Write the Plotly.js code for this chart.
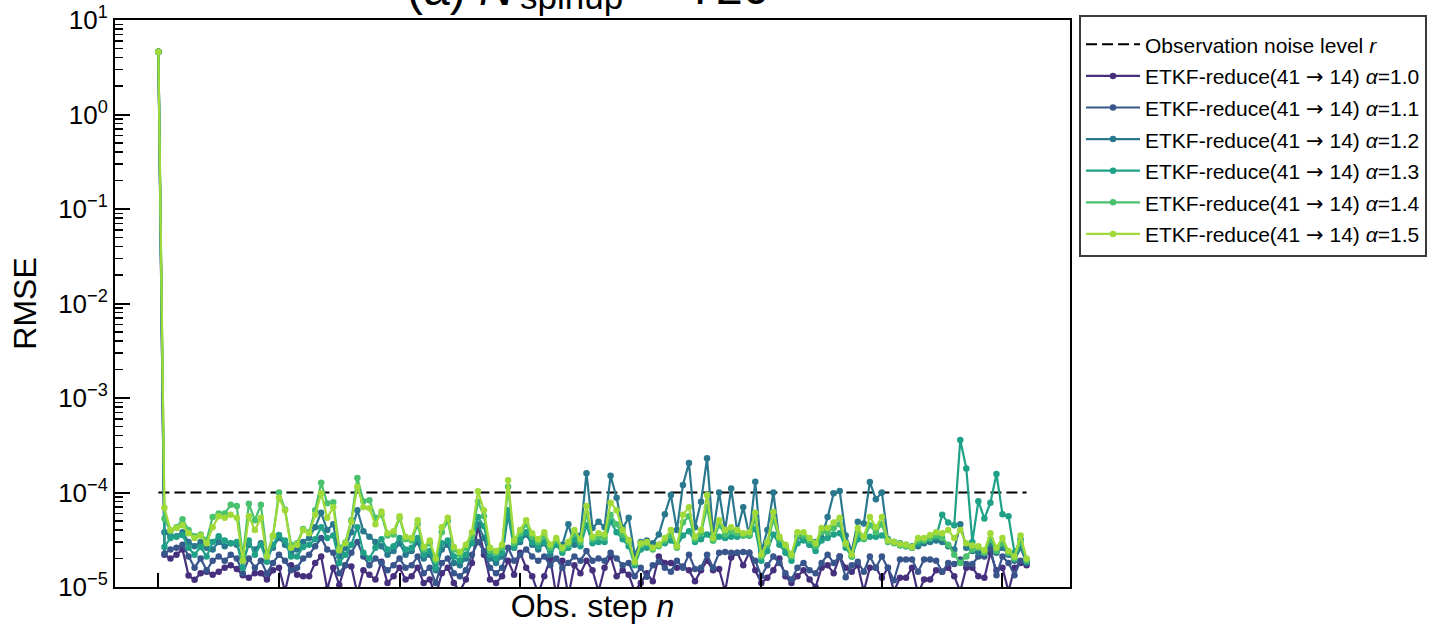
<!DOCTYPE html>
<html>
<head>
<meta charset="utf-8">
<script src="https://cdn.plot.ly/plotly-3.0.1.min.js"></script>
<style>html,body{margin:0;padding:0;background:#fff;}</style>
</head>
<body>
<div id="chart" style="width:1429px;height:628px;"></div>
<script>
// ---- data ----
const alphaLabels = ["1.0", "1.1", "1.2", "1.3", "1.4", "1.5"];
const seriesColors = ["#46307e", "#39568c", "#2a788e", "#1fa187", "#4ac16d", "#a0da39"];
const noiseLevel = 1e-4;

const rmse_a10 = [4.6, 2.2e-5, 2.0e-5, 2.2e-5, 2.5e-5, 1.32e-5, 1.19e-5, 1.4e-5, 1.45e-5, 1.35e-5,
 1.45e-5, 1.6e-5, 1.7e-5, 1.55e-5, 1.33e-5, 1.25e-5, 1.4e-5, 1.4e-5, 1.2e-5, 1.5e-5,
 1.6e-5, 9.0e-6, 1.7e-5, 1.35e-5, 1.3e-5, 1.3e-5, 1.8e-5, 2.1e-5, 9.5e-6, 1.6e-5,
 1.05e-5, 1.7e-5, 1.65e-5, 8.5e-6, 1.5e-5, 1.35e-5, 1.2e-5, 1.85e-5, 1.1e-5, 1.3e-5,
 1.6e-5, 1.2e-5, 1.3e-5, 1.6e-5, 1.1e-5, 1.2e-5, 8.0e-6, 1.4e-5, 1.6e-5, 1.1e-5,
 9.0e-6, 1.2e-5, 1.8e-5, 4.4e-5, 2.2e-5, 1.2e-5, 1.1e-5, 1.3e-5, 1.9e-5, 1.35e-5,
 2.3e-5, 1.6e-5, 1.3e-5, 8.5e-6, 1.3e-5, 2.0e-5, 8.0e-6, 1.9e-5, 8.0e-6, 1.7e-5,
 1.4e-5, 1.9e-5, 1.5e-5, 9.0e-6, 1.6e-5, 2.1e-5, 1.3e-5, 1.5e-5, 1.35e-5, 9.0e-6,
 1.1e-5, 1.4e-5, 1.15e-5, 2.1e-5, 1.8e-5, 1.8e-5, 1.6e-5, 1.65e-5, 1.5e-5, 1.15e-5,
 1.5e-5, 1.9e-5, 1.5e-5, 1.55e-5, 9.0e-6, 2.05e-5, 2.3e-5, 1.7e-5, 2.3e-5, 1.5e-5,
 1.1e-5, 1.25e-5, 1.5e-5, 2.0e-5, 1.3e-5, 1.1e-5, 1.3e-5, 1.5e-5, 1.2e-5, 1.0e-5,
 1.6e-5, 1.7e-5, 1.4e-5, 2.1e-5, 1.6e-5, 1.45e-5, 1.7e-5, 9.0e-6, 1.6e-5, 1.6e-5,
 1.25e-5, 1.6e-5, 9.0e-6, 1.25e-5, 1.25e-5, 1.6e-5, 8.5e-6, 1.2e-5, 1.2e-5, 1.5e-5,
 1.45e-5, 1.6e-5, 1.3e-5, 9.0e-6, 1.6e-5, 1.6e-5, 1.3e-5, 1.25e-5, 2.3e-5, 1.5e-5,
 1.6e-5, 9.0e-6, 1.6e-5, 1.8e-5, 1.7e-5];

const rmse_a11 = [4.6, 2.25e-5, 2.5e-5, 2.6e-5, 2.8e-5, 2.1e-5, 1.6e-5, 2.0e-5, 1.5e-5, 1.9e-5,
 2.1e-5, 1.9e-5, 2.2e-5, 2.0e-5, 1.4e-5, 2.0e-5, 1.6e-5, 1.9e-5, 1.4e-5, 1.8e-5,
 2.2e-5, 1.9e-5, 1.5e-5, 1.6e-5, 2.0e-5, 2.2e-5, 2.7e-5, 3.3e-5, 2.5e-5, 2.3e-5,
 1.4e-5, 1.7e-5, 2.3e-5, 3.0e-5, 2.1e-5, 1.7e-5, 2.0e-5, 1.8e-5, 1.5e-5, 1.7e-5,
 2.0e-5, 1.6e-5, 1.7e-5, 2.1e-5, 1.4e-5, 1.6e-5, 1.1e-5, 1.8e-5, 2.0e-5, 1.4e-5,
 1.3e-5, 1.5e-5, 2.2e-5, 3.0e-5, 2.4e-5, 1.6e-5, 1.4e-5, 1.6e-5, 2.6e-5, 1.9e-5,
 2.2e-5, 2.5e-5, 2.1e-5, 1.9e-5, 2.1e-5, 1.7e-5, 2.0e-5, 1.6e-5, 1.8e-5, 2.1e-5,
 1.9e-5, 2.4e-5, 1.9e-5, 2.0e-5, 1.9e-5, 2.3e-5, 2.0e-5, 1.7e-5, 1.8e-5, 1.3e-5,
 1.6e-5, 1.28e-5, 1.7e-5, 1.85e-5, 1.6e-5, 1.45e-5, 1.9e-5, 1.6e-5, 2.2e-5, 1.55e-5,
 1.6e-5, 2.2e-5, 1.6e-5, 2.3e-5, 2.35e-5, 2.3e-5, 2.3e-5, 2.35e-5, 2.3e-5, 1.9e-5,
 1.3e-5, 1.7e-5, 2.1e-5, 1.8e-5, 1.4e-5, 1.2e-5, 1.6e-5, 1.8e-5, 1.5e-5, 1.4e-5,
 1.8e-5, 2.2e-5, 1.8e-5, 2.1e-5, 1.27e-5, 1.7e-5, 1.85e-5, 1.45e-5, 2.1e-5, 1.6e-5,
 2.1e-5, 1.6e-5, 1.18e-5, 1.95e-5, 1.95e-5, 1.95e-5, 1.45e-5, 1.95e-5, 1.95e-5, 1.9e-5,
 1.45e-5, 1.8e-5, 1.75e-5, 1.95e-5, 1.75e-5, 1.75e-5, 2.1e-5, 2.1e-5, 2.6e-5, 1.33e-5,
 2.1e-5, 1.8e-5, 1.33e-5, 1.9e-5, 1.9e-5];

const rmse_a12 = [4.6, 3.8e-5, 3.45e-5, 3.45e-5, 3.8e-5, 3.0e-5, 2.7e-5, 3.0e-5, 2.6e-5, 2.5e-5,
 3.0e-5, 2.7e-5, 2.9e-5, 2.8e-5, 1.9e-5, 2.8e-5, 2.5e-5, 2.9e-5, 2.1e-5, 2.6e-5,
 3.3e-5, 2.8e-5, 2.3e-5, 2.5e-5, 3.0e-5, 3.3e-5, 4.3e-5, 6.1e-5, 4.0e-5, 4.6e-5,
 2.1e-5, 2.6e-5, 3.8e-5, 6.5e-5, 3.9e-5, 3.4e-5, 3.0e-5, 2.7e-5, 2.2e-5, 2.4e-5,
 2.9e-5, 2.2e-5, 2.4e-5, 3.0e-5, 2.0e-5, 2.2e-5, 1.5e-5, 2.5e-5, 2.8e-5, 1.8e-5,
 1.7e-5, 2.0e-5, 3.3e-5, 4.6e-5, 3.3e-5, 2.0e-5, 1.8e-5, 2.1e-5, 5.8e-5, 2.6e-5,
 3.0e-5, 3.6e-5, 2.8e-5, 2.5e-5, 2.9e-5, 2.2e-5, 2.9e-5, 2.8e-5, 4.6e-5, 2.8e-5,
 3.5e-5, 1.6e-4, 4.2e-5, 4.9e-5, 4.3e-5, 1.5e-4, 8.8e-5, 4.2e-5, 5.4e-5, 2.2e-5,
 3.0e-5, 3.1e-5, 2.9e-5, 3.6e-5, 5.9e-5, 9.4e-5, 4.0e-5, 1.2e-4, 2.05e-4, 4.3e-5,
 8.0e-5, 2.3e-4, 3.7e-5, 1.0e-4, 4.0e-5, 1.1e-4, 3.9e-5, 7.0e-5, 3.5e-5, 1.3e-4,
 2.35e-5, 4.0e-5, 1.0e-4, 3.1e-5, 2.6e-5, 2.2e-5, 3.4e-5, 3.2e-5, 2.8e-5, 3.0e-5,
 3.3e-5, 5.5e-5, 9.8e-5, 1.04e-4, 3.5e-5, 2.4e-5, 4.9e-5, 4.7e-5, 1.29e-4, 8.5e-5,
 1.0e-4, 3.2e-5, 3.0e-5, 2.8e-5, 2.7e-5, 2.6e-5, 2.7e-5, 2.9e-5, 3.0e-5, 3.1e-5,
 3.0e-5, 2.7e-5, 2.5e-5, 4.6e-5, 2.6e-5, 2.4e-5, 2.3e-5, 2.4e-5, 2.9e-5, 2.3e-5,
 2.6e-5, 2.2e-5, 1.9e-5, 2.6e-5, 1.8e-5];

const rmse_a13 = [4.6, 2.65e-5, 3.3e-5, 3.4e-5, 3.55e-5, 2.6e-5, 2.2e-5, 2.65e-5, 2.1e-5, 3.0e-5,
 3.45e-5, 3.1e-5, 2.9e-5, 3.0e-5, 1.6e-5, 3.1e-5, 2.2e-5, 2.8e-5, 1.85e-5, 2.8e-5,
 3.55e-5, 3.1e-5, 2.1e-5, 2.1e-5, 2.65e-5, 2.8e-5, 3.2e-5, 4.3e-5, 3.3e-5, 3.5e-5,
 1.8e-5, 2.2e-5, 2.8e-5, 4.3e-5, 2.3e-5, 2.0e-5, 2.6e-5, 3.2e-5, 2.5e-5, 2.7e-5,
 3.3e-5, 2.5e-5, 2.6e-5, 3.3e-5, 2.2e-5, 2.4e-5, 1.6e-5, 2.9e-5, 3.1e-5, 2.1e-5,
 1.9e-5, 2.2e-5, 2.9e-5, 5.5e-5, 4.4e-5, 2.2e-5, 2.0e-5, 2.3e-5, 6.5e-5, 2.6e-5,
 3.2e-5, 3.8e-5, 3.0e-5, 2.7e-5, 3.0e-5, 2.4e-5, 2.8e-5, 2.3e-5, 2.6e-5, 3.2e-5,
 2.7e-5, 4.5e-5, 2.9e-5, 3.0e-5, 3.0e-5, 4.9e-5, 3.8e-5, 3.2e-5, 2.7e-5, 1.7e-5,
 2.5e-5, 2.6e-5, 2.6e-5, 2.8e-5, 2.9e-5, 3.1e-5, 2.7e-5, 3.5e-5, 3.9e-5, 3.0e-5,
 3.2e-5, 3.6e-5, 3.1e-5, 3.4e-5, 3.3e-5, 3.4e-5, 3.4e-5, 3.5e-5, 3.5e-5, 4.1e-5,
 1.9e-5, 2.4e-5, 3.6e-5, 2.8e-5, 2.3e-5, 1.9e-5, 2.9e-5, 3.1e-5, 2.8e-5, 2.4e-5,
 3.1e-5, 3.3e-5, 3.6e-5, 3.7e-5, 2.6e-5, 2.1e-5, 3.2e-5, 3.3e-5, 3.4e-5, 3.4e-5,
 3.5e-5, 3.2e-5, 3.0e-5, 2.9e-5, 2.8e-5, 2.7e-5, 2.9e-5, 3.1e-5, 3.2e-5, 3.4e-5,
 5.8e-5, 4.8e-5, 4.5e-5, 3.6e-4, 1.8e-4, 3.0e-5, 8.1e-5, 5.3e-5, 7.8e-5, 1.57e-4,
 5.9e-5, 5.6e-5, 2.3e-5, 3.2e-5, 1.9e-5];

const rmse_a14 = [4.6, 5.3e-5, 3.9e-5, 4.3e-5, 5.2e-5, 4.0e-5, 3.45e-5, 3.6e-5, 3.15e-5, 5.5e-5,
 6.0e-5, 6.0e-5, 7.4e-5, 7.2e-5, 2.1e-5, 7.6e-5, 5.1e-5, 7.4e-5, 2.2e-5, 3.45e-5,
 1.0e-4, 6.6e-5, 2.8e-5, 2.9e-5, 4.1e-5, 3.8e-5, 6.5e-5, 1.27e-4, 7.7e-5, 7.9e-5,
 2.6e-5, 2.95e-5, 5.1e-5, 1.42e-4, 8.1e-5, 8.3e-5, 5.4e-5, 5.8e-5, 3.5e-5, 3.6e-5,
 5.4e-5, 3.2e-5, 3.1e-5, 4.6e-5, 2.5e-5, 2.9e-5, 1.9e-5, 3.8e-5, 5.0e-5, 2.5e-5,
 2.2e-5, 2.6e-5, 3.4e-5, 8.0e-5, 5.6e-5, 2.4e-5, 2.3e-5, 2.6e-5, 1.15e-4, 2.9e-5,
 3.7e-5, 4.6e-5, 3.4e-5, 3.0e-5, 3.5e-5, 2.6e-5, 3.1e-5, 2.5e-5, 2.8e-5, 3.7e-5,
 3.0e-5, 6.0e-5, 3.2e-5, 3.4e-5, 3.3e-5, 5.8e-5, 4.6e-5, 3.6e-5, 3.0e-5, 1.8e-5,
 2.8e-5, 2.9e-5, 2.5e-5, 2.7e-5, 3.1e-5, 3.6e-5, 2.6e-5, 4.8e-5, 5.6e-5, 3.2e-5,
 3.7e-5, 7.0e-5, 3.1e-5, 4.5e-5, 3.6e-5, 3.9e-5, 3.7e-5, 3.5e-5, 3.5e-5, 5.2e-5,
 2.1e-5, 2.8e-5, 5.2e-5, 3.2e-5, 2.7e-5, 2.1e-5, 3.5e-5, 3.5e-5, 3.1e-5, 2.7e-5,
 3.8e-5, 3.8e-5, 4.2e-5, 4.6e-5, 2.8e-5, 2.1e-5, 3.7e-5, 3.2e-5, 4.5e-5, 3.8e-5,
 4.6e-5, 3.0e-5, 2.9e-5, 2.75e-5, 2.7e-5, 2.6e-5, 3.1e-5, 3.1e-5, 3.3e-5, 3.5e-5,
 3.3e-5, 2.8e-5, 2.2e-5, 1.8e-5, 2.1e-5, 2.5e-5, 2.6e-5, 2.3e-5, 3.2e-5, 2.4e-5,
 2.9e-5, 2.3e-5, 2.0e-5, 3.0e-5, 1.9e-5];

const rmse_a15 = [4.6, 6.9e-5, 4.0e-5, 4.2e-5, 4.5e-5, 3.7e-5, 3.3e-5, 3.5e-5, 2.9e-5, 4.3e-5,
 5.6e-5, 5.4e-5, 5.8e-5, 5.4e-5, 1.9e-5, 5.6e-5, 4.0e-5, 5.4e-5, 2.1e-5, 3.5e-5,
 8.8e-5, 6.5e-5, 2.6e-5, 2.8e-5, 4.0e-5, 3.7e-5, 5.8e-5, 9.8e-5, 5.4e-5, 7.0e-5,
 2.45e-5, 2.9e-5, 4.9e-5, 1.15e-4, 7.0e-5, 6.8e-5, 4.6e-5, 6.3e-5, 3.7e-5, 3.9e-5,
 5.6e-5, 3.4e-5, 3.3e-5, 5.1e-5, 2.65e-5, 3.1e-5, 2.0e-5, 4.3e-5, 5.4e-5, 2.65e-5,
 2.35e-5, 2.8e-5, 3.8e-5, 1.03e-4, 6.5e-5, 2.6e-5, 2.4e-5, 2.8e-5, 1.35e-4, 3.1e-5,
 4.0e-5, 5.1e-5, 3.7e-5, 3.2e-5, 3.8e-5, 2.8e-5, 3.3e-5, 2.6e-5, 3.0e-5, 4.0e-5,
 3.2e-5, 7.2e-5, 3.4e-5, 3.7e-5, 3.6e-5, 7.8e-5, 6.5e-5, 4.0e-5, 3.15e-5, 1.85e-5,
 2.9e-5, 3.0e-5, 2.6e-5, 2.8e-5, 3.3e-5, 4.0e-5, 2.7e-5, 5.8e-5, 7.0e-5, 3.4e-5,
 4.0e-5, 9.4e-5, 3.3e-5, 5.1e-5, 4.0e-5, 4.3e-5, 4.0e-5, 3.7e-5, 3.8e-5, 6.1e-5,
 2.2e-5, 3.0e-5, 6.2e-5, 3.4e-5, 2.8e-5, 2.2e-5, 3.8e-5, 3.8e-5, 3.3e-5, 2.9e-5,
 4.2e-5, 4.2e-5, 4.8e-5, 5.4e-5, 2.9e-5, 2.2e-5, 4.2e-5, 3.4e-5, 5.5e-5, 4.3e-5,
 5.5e-5, 3.1e-5, 3.0e-5, 2.85e-5, 2.8e-5, 2.65e-5, 3.3e-5, 3.3e-5, 3.55e-5, 3.8e-5,
 3.7e-5, 4.0e-5, 3.3e-5, 4.0e-5, 2.9e-5, 2.75e-5, 2.7e-5, 2.45e-5, 3.7e-5, 2.6e-5,
 3.3e-5, 2.4e-5, 2.1e-5, 3.5e-5, 2.0e-5];

const allSeries = [rmse_a10, rmse_a11, rmse_a12, rmse_a13, rmse_a14, rmse_a15];
const xTickVals = [0, 20, 40, 60, 80, 100, 120, 140];
const yTickVals = [1e-5, 1e-4, 1e-3, 1e-2, 1e-1, 1, 10];
const yTickText = ["10<sup>\u22125</sup>", "10<sup>\u22124</sup>", "10<sup>\u22123</sup>", "10<sup>\u22122</sup>", "10<sup>\u22121</sup>", "10<sup>0</sup>", "10<sup>1</sup>"];

// ---- build ----
const steps = rmse_a10.map((_, i) => i);
const minorVals = [];
for (let e = -5; e < 1; e++) for (let k = 2; k <= 9; k++) minorVals.push(k * Math.pow(10, e));

const FONT = "Liberation Sans, Arial, Helvetica, sans-serif";
const ARROW = '<span style="font-family:DejaVu Sans">\u2192</span>';
const LS = '<span style="font-size:21px">';

const traces = [{
  x: [steps[0], steps[steps.length - 1]], y: [noiseLevel, noiseLevel],
  mode: "lines", name: LS + "Observation noise level <i>r</i></span>",
  line: {color: "#000", width: 2, dash: "11px,5px"}
}];
allSeries.forEach((s, i) => {
  traces.push({
    x: steps, y: s, mode: "lines+markers",
    name: LS + "ETKF-reduce(41 " + ARROW + " 14) <i>\u03b1</i>=" + alphaLabels[i] + "</span>",
    line: {color: seriesColors[i], width: 2.2},
    marker: {color: seriesColors[i], size: 6.5}
  });
});

// plot area in pixels: left 115, right 1070, top 20
const px2x = p => (p - 115) / 955;

const layout = {
  width: 1429, height: 628,
  margin: {l: 115, r: 359, t: 20, b: 41},
  paper_bgcolor: "#fff", plot_bgcolor: "#fff",
  font: {family: FONT, color: "#000", size: 20},
  showlegend: true,
  legend: {
    xref: "container", yref: "container",
    x: 1079 / 1429, y: 1 - 15 / 628, xanchor: "left", yanchor: "top",
    bgcolor: "#fff", bordercolor: "#3a3a3a", borderwidth: 2,
    itemwidth: 54,
    title: {text: " ", font: {size: 5}},
    font: {family: FONT, size: 22, color: "#000"}
  },
  xaxis: {
    range: [-7.2, 151.2], showgrid: false, zeroline: false,
    showline: true, linecolor: "#000", linewidth: 2, mirror: true,
    tickmode: "array", tickvals: xTickVals, showticklabels: false,
    ticks: "inside", ticklen: 14, tickwidth: 2, tickcolor: "#000",
    title: {text: "Obs. step <i>n</i>", font: {family: FONT, size: 32, color: "#000"}, standoff: 7}
  },
  yaxis: {
    type: "log", range: [-5, 1], showgrid: false, zeroline: false,
    showline: true, linecolor: "#000", linewidth: 2, mirror: true,
    tickmode: "array", tickvals: yTickVals, ticktext: yTickText,
    ticks: "inside", ticklen: 15, tickwidth: 2, tickcolor: "#000",
    tickfont: {family: FONT, size: 26, color: "#000"},
    minor: {tickmode: "array", tickvals: minorVals, ticks: "inside", ticklen: 8, tickwidth: 1.5, tickcolor: "#000", showgrid: false},
    title: {text: "RMSE", font: {family: FONT, size: 32, color: "#000"}, standoff: 12}
  },
  annotations: [
    {xref: "paper", yref: "paper", x: px2x(516), y: 1, xanchor: "right", yanchor: "middle",
     yshift: 32, showarrow: false, text: "(a) <i>N</i>",
     font: {family: FONT, size: 48, color: "#000"}},
    {xref: "paper", yref: "paper", x: px2x(518), y: 1, xanchor: "left", yanchor: "middle",
     yshift: 24, showarrow: false, text: "spinup",
     font: {family: FONT, size: 35, color: "#000"}},
    {xref: "paper", yref: "paper", x: px2x(646), y: 1, xanchor: "left", yanchor: "middle",
     yshift: 33, showarrow: false, text: "= 720",
     font: {family: FONT, size: 48, color: "#000"}}
  ]
};

Plotly.newPlot("chart", traces, layout, {displayModeBar: false, staticPlot: true});
</script>
</body>
</html>
